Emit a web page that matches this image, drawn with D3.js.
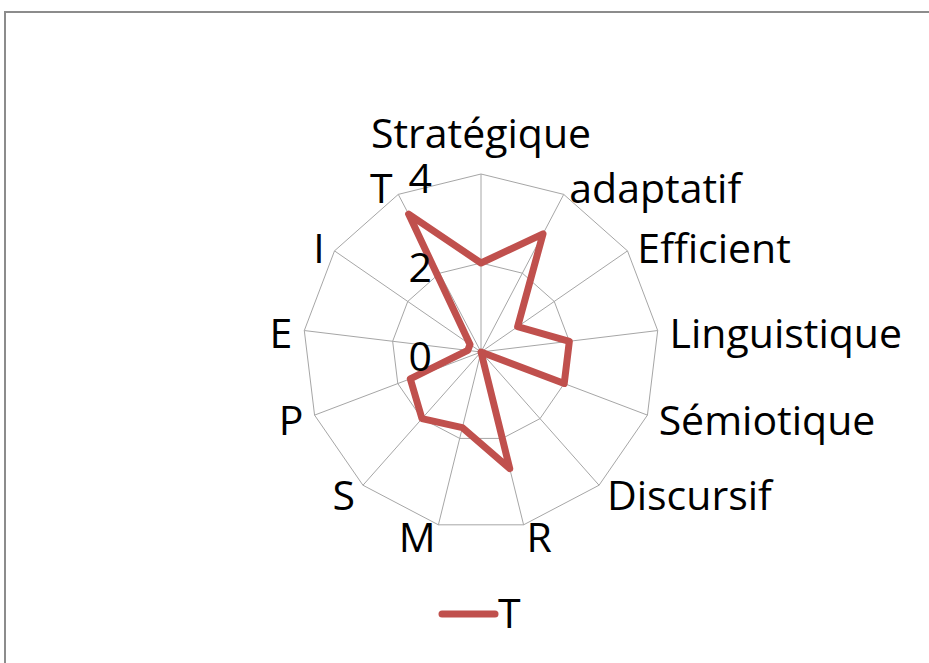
<!DOCTYPE html>
<html>
<head>
<meta charset="utf-8">
<script src="https://cdn.jsdelivr.net/npm/d3@7"></script>
<style>
  html, body { margin: 0; padding: 0; background: #fff; }
  svg text { font-family: "Open Sans", sans-serif; fill: #000; }
</style>
</head>
<body>
<svg width="929" height="663"></svg>
<script>
    // axes, clockwise from the top
    var categories = ["Stratégique", "adaptatif", "Efficient", "Linguistique", "Sémiotique", "Discursif",
                      "R", "M", "S", "P", "E", "I", "T"];
    var valuesT = [2, 3, 1, 2, 2, 0, 2.7, 1.75, 2, 1.7, 0.3, 0.3, 3.5];
    var ringValues = [2, 4];
    var tickLabels = [0, 2, 4];
    var seriesName = "T";

    var width = 929, height = 663;
    var cx = 481, cy = 352, radius = 178;
    var red = "#c0504d";

    var svg = d3.select("svg");

    // outer chart border
    svg.append("rect")
      .attr("x", 5).attr("y", 12)
      .attr("width", 960).attr("height", 700)
      .attr("fill", "none")
      .attr("stroke", "#8c8c8c")
      .attr("stroke-width", 2);

    var r = d3.scaleLinear().domain([0, 4]).range([0, radius]);
    var angle = d3.scaleLinear().domain([0, categories.length]).range([0, 2 * Math.PI]);

    function pt(i, v) {
      var a = angle(i);
      return [cx + r(v) * Math.sin(a), cy - r(v) * Math.cos(a)];
    }

    var g = svg.append("g");

    // rings
    ringValues.forEach(function (v) {
      g.append("path")
        .attr("d", d3.line()(categories.map(function (c, i) { return pt(i, v); })) + "Z")
        .attr("fill", "none")
        .attr("stroke", "#a6a6a6")
        .attr("stroke-width", 1);
    });

    // spokes
    g.selectAll(".spoke")
      .data(categories)
    .enter().append("line")
      .attr("class", "spoke")
      .attr("x1", cx).attr("y1", cy)
      .attr("x2", function (d, i) { return pt(i, 4)[0]; })
      .attr("y2", function (d, i) { return pt(i, 4)[1]; })
      .attr("stroke", "#a6a6a6")
      .attr("stroke-width", 1);

    // series line
    var line = d3.line().curve(d3.curveLinearClosed);
    g.append("path")
      .attr("d", line(valuesT.map(function (v, i) { return pt(i, v); })))
      .attr("fill", "none")
      .attr("stroke", red)
      .attr("stroke-width", 7)
      .attr("stroke-linejoin", "round");

    // category labels
    g.selectAll(".cat")
      .data(categories)
    .enter().append("text")
      .attr("class", "cat")
      .attr("font-size", 41)
      .each(function (d, i) {
        var a = angle(i), s = Math.sin(a);
        var p = pt(i, 4 * (radius + 12) / radius);
        var t = d3.select(this).text(d);
        if (i === 0) {
          t.attr("x", cx).attr("y", cy - radius - 26).attr("text-anchor", "middle");
        } else {
          t.attr("x", p[0]).attr("y", p[1] + (Math.cos(a) > 0 ? 5 : 1))
            .attr("dy", "0.35em")
            .attr("text-anchor", s > 0 ? "start" : "end");
        }
      });

    // radial tick labels
    g.selectAll(".tick")
      .data(tickLabels)
    .enter().append("text")
      .attr("class", "tick")
      .attr("font-size", 41)
      .attr("x", cx - 49)
      .attr("y", function (d) { return cy - r(d) + 5; })
      .attr("dy", "0.35em")
      .attr("text-anchor", "end")
      .text(function (d) { return d; });

    // legend
    var leg = svg.append("g").attr("transform", "translate(440,614)");
    leg.append("line")
      .attr("x1", 2).attr("x2", 55).attr("y1", 0).attr("y2", 0)
      .attr("stroke", red).attr("stroke-width", 7)
      .attr("stroke-linecap", "round");
    leg.append("text")
      .attr("x", 58).attr("y", 0).attr("dy", "0.35em")
      .attr("font-size", 41)
      .text(seriesName);
</script>
</body>
</html>
